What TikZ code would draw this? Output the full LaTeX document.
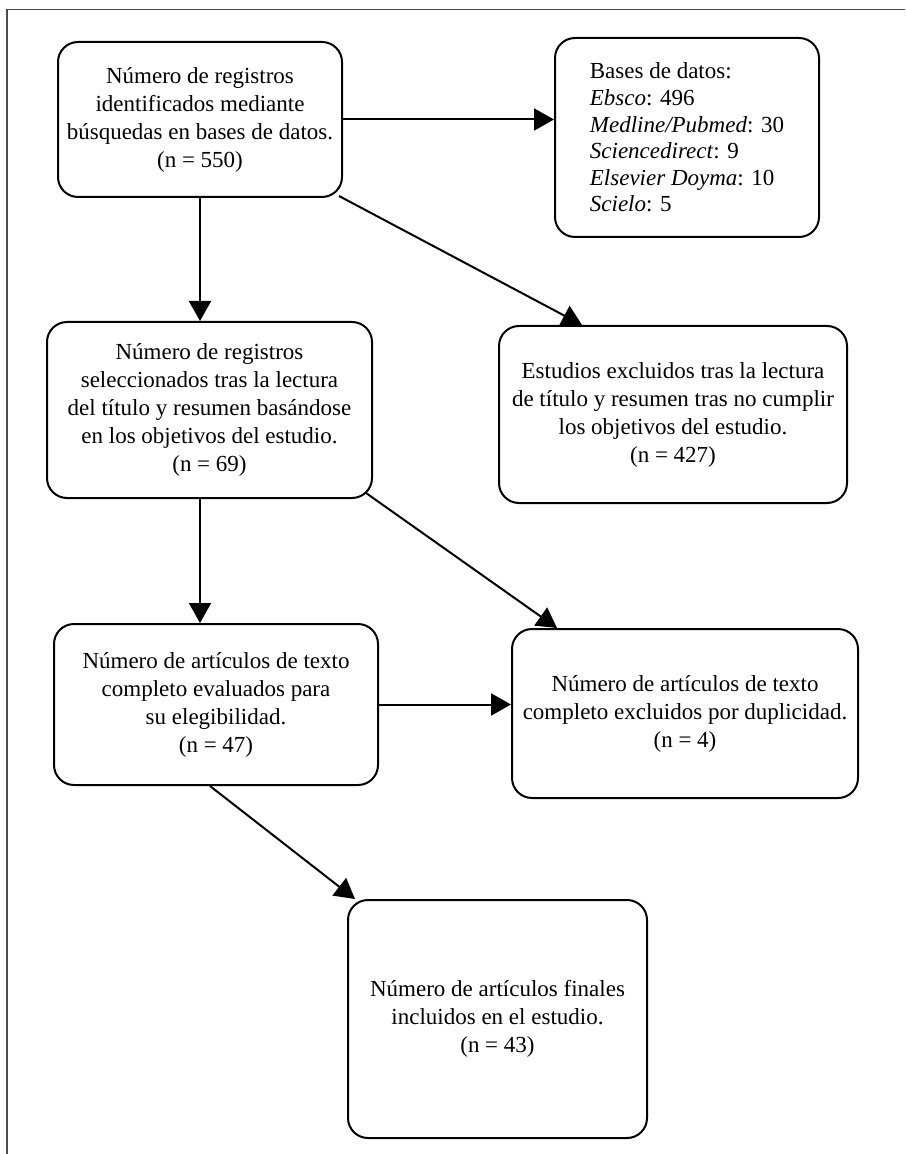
\documentclass[tikz,border=0pt]{standalone}
\usepackage{fontspec}
\setmainfont{Liberation Serif}
\usetikzlibrary{arrows.meta}

\begin{document}
\begin{tikzpicture}[
    x=0.5pt, y=-0.5pt,
    flowbox/.style = {
        draw,
        line width=1pt,
        rounded corners=10pt,
        align=center,
        inner sep=0pt,
        font=\fontsize{11.5}{14}\selectfont
    },
    flowarrow/.style = {
        line width=1pt,
        -{Triangle[length=10pt, width=11pt]}
    },
    framestyle/.style = {
        draw=black!70,
        line width=0.8pt
    }
]

\useasboundingbox (0,0) rectangle (905,1154);

% --- Cadre ---
\draw[framestyle] (905,9.5) -- (7,9.5) -- (7,1154);

% --- Cajas del diagrama ---
\node[flowbox, minimum width=142pt, minimum height=77.5pt] (ident) at (200,119.5)
    {Número de registros\\identificados mediante\\búsquedas en bases de datos.\\(n = 550)};
\node[flowbox, minimum width=132pt, minimum height=99.5pt, align=left,
      font=\fontsize{11.5}{13.3}\selectfont] (bases) at (687,137.5)
    {Bases de datos:\\\textit{Ebsco}: 496\\\textit{Medline/Pubmed}: 30\\\textit{Sciencedirect}: 9\\\textit{Elsevier Doyma}: 10\\\textit{Scielo}: 5};
\node[flowbox, minimum width=162.5pt, minimum height=88pt] (seleccion) at (209.5,410)
    {Número de registros\\seleccionados tras la lectura\\del título y resumen basándose\\en los objetivos del estudio.\\(n = 69)};
\node[flowbox, minimum width=174pt, minimum height=88.5pt] (excluidos) at (673,414.5)
    {Estudios excluidos tras la lectura\\de título y resumen tras no cumplir\\los objetivos del estudio.\\(n = 427)};
\node[flowbox, minimum width=162pt, minimum height=80.5pt] (evaluados) at (216,704.5)
    {Número de artículos de texto\\completo evaluados para\\su elegibilidad.\\(n = 47)};
\node[flowbox, minimum width=173pt, minimum height=84.5pt] (duplicados) at (685,713.5)
    {Número de artículos de texto\\completo excluidos por duplicidad.\\(n = 4)};
\node[flowbox, minimum width=149.5pt, minimum height=119pt] (finales) at (497.5,1019)
    {Número de artículos finales\\incluidos en el estudio.\\(n = 43)};

% --- Flechas ---
\draw[flowarrow] (ident.east) -- (ident.east -| bases.west);
\draw[flowarrow] (ident.south) -- (ident.south |- seleccion.north);
\draw[flowarrow] ([xshift=-2pt,yshift=1pt]ident.south east) -- ([xshift=42pt]excluidos.north west);
\draw[flowarrow] (ident.south |- seleccion.south) -- (ident.south |- evaluados.north);
\draw[flowarrow] ([xshift=-3.5pt,yshift=3pt]seleccion.south east) -- ([xshift=23pt]duplicados.north west);
\draw[flowarrow] (evaluados.east) -- (evaluados.east -| duplicados.west);
\draw[flowarrow] ([xshift=-3pt]evaluados.south) -- ([xshift=4pt]finales.north west);

\end{tikzpicture}
\end{document}
